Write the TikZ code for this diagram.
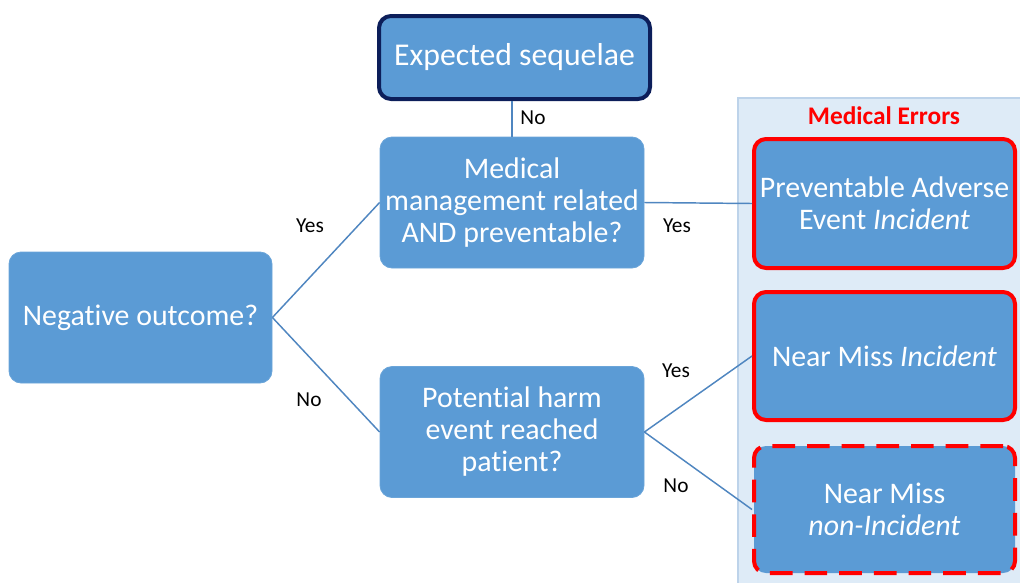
\documentclass[tikz,border=0pt]{standalone}
\usepackage{fontspec}
\setmainfont{Carlito}[Ligatures=NoCommon]
\definecolor{boxblue}{HTML}{5B9BD5}
\definecolor{edgeblue}{HTML}{4F86C0}
\definecolor{navy}{HTML}{0C1E5A}
\definecolor{panelfill}{HTML}{DEEBF7}
\definecolor{panelline}{HTML}{BDD3EA}
\definecolor{errred}{HTML}{FF0000}
\begin{document}
\begin{tikzpicture}[x=0.75pt,y=-0.75pt,
  box/.style={draw=boxblue!90!white, fill=boxblue, rounded corners=9pt, inner sep=0pt,
    text=white, align=center, font=\fontsize{22.4}{24}\selectfont, line width=0.6pt},
  navybox/.style={box, draw=navy, line width=3pt, font=\fontsize{23.8}{26}\selectfont},
  redbox/.style={box, draw=errred, line width=3pt},
  dashbox/.style={redbox, dash pattern=on 17pt off 9pt},
  conn/.style={draw=edgeblue, line width=1.1pt},
  lbl/.style={font=\fontsize{16}{18}\selectfont, text=black, inner sep=0pt}]
\useasboundingbox (0,0) rectangle (1020,582);
% panel
\fill[panelfill, draw=panelline, line width=1pt] (738,98) rectangle (1024,586);
\node[font=\bfseries\fontsize{19}{22}\selectfont, text=errred] (me) at (884,116) {Medical Errors};
% nodes
\node[box, minimum width=197.25pt, minimum height=98.25pt] (neg) at (140.5,317.5) {Negative outcome?};
\node[navybox, minimum width=203.25pt, minimum height=62.25pt] (exp) at (514.5,57.5) {Expected sequelae};
\node[box, minimum width=198pt, minimum height=98.25pt] (mm) at (512,202.5) {Medical\\management related\\AND preventable?};
\node[box, minimum width=198pt, minimum height=98.25pt] (ph) at (512,432) {Potential harm\\event reached\\patient?};
\node[redbox, minimum width=195.75pt, minimum height=96.75pt] (pae) at (884.5,203.5) {Preventable Adverse\\Event \textit{Incident}};
\node[redbox, minimum width=195.75pt, minimum height=96pt] (nmi) at (884.5,356) {Near Miss \textit{Incident}};
\node[dashbox, minimum width=195.75pt, minimum height=95.25pt] (nmn) at (884.5,509.5) {Near Miss\\\textit{non-Incident}};
% connectors
\draw[conn] (neg.east) -- (mm.west);
\draw[conn] (neg.east) -- (ph.west);
\draw[conn] (exp.south -| mm.north) -- (mm.north);
\draw[conn] (mm.east) -- (pae.west);
\draw[conn] (ph.east) -- (nmi.west);
\draw[conn] (ph.east) -- (nmn.west);
% labels
\node[lbl] (l1) at (310,226) {Yes};
\node[lbl] (l2) at (309,400) {No};
\node[lbl] (l3) at (533,118) {No};
\node[lbl] (l4) at (677,226) {Yes};
\node[lbl] (l5) at (676,371) {Yes};
\node[lbl] (l6) at (676,486) {No};
\end{tikzpicture}
\end{document}
